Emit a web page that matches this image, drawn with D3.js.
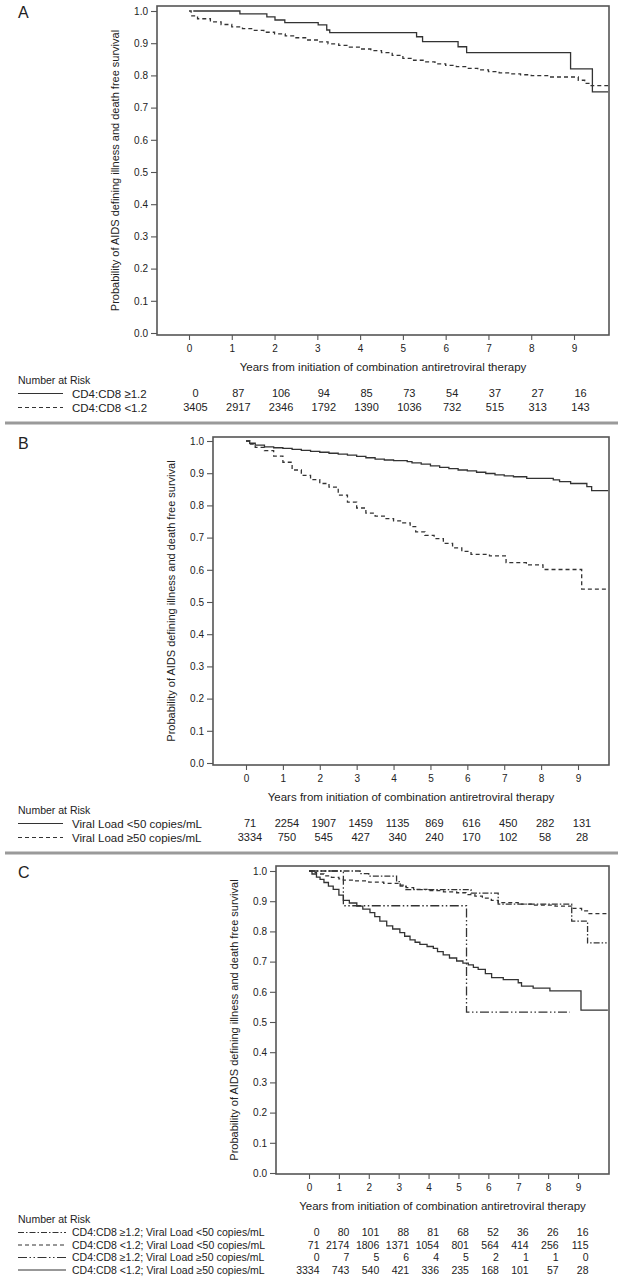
<!DOCTYPE html>
<meta charset="utf-8">
<style>
body { margin: 0; background: #fff; }
svg { display: block; font-family: "Liberation Sans", Arial, sans-serif; }
.frame { fill: none; stroke: #555; stroke-width: 1.6; }
.curve { fill: none; stroke: #333; stroke-width: 1.3; }
.axis text { font-family: "Liberation Sans", Arial, sans-serif; font-size: 10px; fill: #222; }
.axis line { stroke: #555; stroke-width: 1.1; }
.sep { stroke: #9a9a9a; stroke-width: 3; }
text { fill: #222; }
</style>
<svg width="626" height="1279"></svg>
<script src="https://d3js.org/d3.v7.min.js"></script>
<script>
// tick values
var years = [0, 1, 2, 3, 4, 5, 6, 7, 8, 9];
var probTicks = [0, 0.1, 0.2, 0.3, 0.4, 0.5, 0.6, 0.7, 0.8, 0.9, 1.0];

// ---- panel A : CD4:CD8 ratio ----
var kmA_high = [[0.1,1],[1.19,0.991],[1.82,0.982],[2.01,0.972],[2.24,0.964],[3.02,0.957],[3.22,0.941],[3.29,0.933],
  [5.32,0.92],[5.46,0.905],[6.29,0.889],[6.49,0.871],[8.92,0.82],[9.43,0.749],[9.8,0.749]];
var kmA_low = [[0,1],[0.05,0.985],[0.2,0.976],[0.5,0.966],[0.75,0.958],[1,0.951],[1.25,0.945],[1.5,0.94],[1.75,0.934],
  [2,0.929],[2.25,0.923],[2.5,0.917],[2.75,0.91],[3,0.904],[3.25,0.898],[3.5,0.893],[3.75,0.888],[4,0.882],[4.25,0.877],
  [4.5,0.871],[4.75,0.862],[5,0.853],[5.25,0.847],[5.5,0.842],[5.75,0.836],[6,0.831],[6.25,0.827],[6.5,0.822],[6.75,0.817],
  [7,0.812],[7.25,0.808],[7.5,0.805],[7.75,0.802],[8,0.799],[8.43,0.795],[9.1,0.785],[9.25,0.775],[9.4,0.768],[9.8,0.768]];
var riskA_high = [0, 87, 106, 94, 85, 73, 54, 37, 27, 16];
var riskA_low = [3405, 2917, 2346, 1792, 1390, 1036, 732, 515, 313, 143];

// ---- panel B : viral load ----
var kmB_low = [[0,1],[0.1,0.993],[0.25,0.987],[0.5,0.982],[0.75,0.979],[1,0.977],[1.25,0.974],[1.5,0.971],[1.75,0.968],
  [2,0.965],[2.25,0.962],[2.5,0.959],[2.75,0.956],[3,0.952],[3.25,0.948],[3.5,0.944],[3.75,0.941],[4,0.939],[4.37,0.936],
  [4.5,0.932],[4.75,0.928],[5,0.923],[5.25,0.918],[5.5,0.914],[5.75,0.91],[6,0.907],[6.25,0.903],[6.5,0.899],[6.75,0.895],
  [7,0.892],[7.25,0.889],[7.61,0.884],[8.33,0.879],[8.5,0.874],[8.8,0.868],[9.24,0.858],[9.37,0.846],[9.82,0.846]];
var kmB_high = [[0,1],[0.1,0.99],[0.25,0.98],[0.5,0.97],[0.75,0.953],[1,0.934],[1.25,0.91],[1.5,0.893],[1.75,0.88],
  [2,0.868],[2.25,0.857],[2.5,0.832],[2.75,0.81],[3,0.792],[3.25,0.776],[3.5,0.767],[3.75,0.759],[4,0.752],[4.25,0.746],
  [4.45,0.734],[4.6,0.718],[4.85,0.707],[5.1,0.697],[5.35,0.682],[5.6,0.668],[5.85,0.657],[6.1,0.648],[6.6,0.643],
  [7.05,0.622],[7.6,0.615],[8.05,0.601],[9.1,0.54],[9.82,0.54]];
var riskB_low = [71, 2254, 1907, 1459, 1135, 869, 616, 450, 282, 131];
var riskB_high = [3334, 750, 545, 427, 340, 240, 170, 102, 58, 28];

// ---- panel C : combined ----
var kmC_highLow = [[0,1],[1.71,0.991],[2,0.983],[2.93,0.965],[3.05,0.95],[3.24,0.938],[5.42,0.927],[6.33,0.89],
  [8.79,0.834],[9.32,0.762],[9.96,0.762]];
var kmC_lowLow = [[0,1],[0.1,0.995],[0.25,0.99],[0.5,0.984],[0.75,0.979],[1,0.974],[1.15,0.97],[1.5,0.967],[2,0.963],
  [2.5,0.959],[3,0.953],[3.25,0.945],[3.5,0.939],[4,0.935],[4.5,0.931],[4.94,0.928],[5.25,0.922],[5.55,0.917],[5.8,0.91],
  [6.1,0.903],[6.33,0.895],[7,0.89],[7.5,0.887],[8.23,0.884],[8.79,0.876],[9.12,0.868],[9.34,0.859],[9.96,0.859]];
var kmC_highHigh = [[0,1],[1.15,0.885],[5.27,0.533],[8.73,0.533]];
var kmC_lowHigh = [[0,1],[0.1,0.99],[0.25,0.98],[0.37,0.972],[0.5,0.962],[0.65,0.95],[0.81,0.939],[1,0.92],[1.15,0.903],
  [1.35,0.894],[1.6,0.884],[1.8,0.874],[2.04,0.862],[2.2,0.849],[2.37,0.834],[2.6,0.818],[2.8,0.808],[3.04,0.796],
  [3.2,0.784],[3.38,0.772],[3.55,0.764],[3.71,0.757],[3.95,0.75],[4.16,0.744],[4.3,0.733],[4.49,0.722],[4.7,0.712],
  [4.94,0.702],[5.15,0.695],[5.33,0.689],[5.5,0.681],[5.66,0.674],[5.9,0.66],[6.11,0.647],[6.5,0.64],[7,0.63],
  [7.11,0.619],[7.5,0.612],[8.06,0.603],[9.1,0.539],[10,0.539]];
var riskC_highLow = [0, 80, 101, 88, 81, 68, 52, 36, 26, 16];
var riskC_lowLow = [71, 2174, 1806, 1371, 1054, 801, 564, 414, 256, 115];
var riskC_highHigh = [0, 7, 5, 6, 4, 5, 2, 1, 1, 0];
var riskC_lowHigh = [3334, 743, 540, 421, 336, 235, 168, 101, 57, 28];

var DASH = "4,3", DASHDOT = "6,2,1.5,2", DASHDOTDOT = "9,2.5,1.5,2.5,1.5,2.5";

var svg = d3.select("svg");

var panels = [
  { letter: "A", box: [157, 6, 609, 335], xRange: [189, 574], yRange: [333, 11],
    rowGap: 14, labelFont: 11.5, numFont: 11, numShift: 6.5, numAnchor: "middle", lineEnd: 63, labelX: 72,
    series: [
      { label: "CD4:CD8 \u22651.2", km: kmA_high, risk: riskA_high, dash: null },
      { label: "CD4:CD8 <1.2", km: kmA_low, risk: riskA_low, dash: DASH } ] },
  { letter: "B", box: [213, 437, 609, 765], xRange: [246, 578], yRange: [763, 441],
    rowGap: 14, labelFont: 11.5, numFont: 11, numShift: 4, numAnchor: "middle", lineEnd: 63, labelX: 72,
    series: [
      { label: "Viral Load <50 copies/mL", km: kmB_low, risk: riskB_low, dash: null },
      { label: "Viral Load \u226550 copies/mL", km: kmB_high, risk: riskB_high, dash: DASH } ] },
  { letter: "C", box: [276, 866, 609, 1174], xRange: [309, 578], yRange: [1173, 871],
    rowGap: 12.5, labelFont: 10.5, numFont: 10.5, numShift: 10.5, numAnchor: "end", lineEnd: 66, labelX: 72,
    series: [
      { label: "CD4:CD8 \u22651.2; Viral Load <50 copies/mL", km: kmC_highLow, risk: riskC_highLow, dash: DASHDOT },
      { label: "CD4:CD8 <1.2; Viral Load <50 copies/mL", km: kmC_lowLow, risk: riskC_lowLow, dash: DASH },
      { label: "CD4:CD8 \u22651.2; Viral Load \u226550 copies/mL", km: kmC_highHigh, risk: riskC_highHigh, dash: DASHDOTDOT },
      { label: "CD4:CD8 <1.2; Viral Load \u226550 copies/mL", km: kmC_lowHigh, risk: riskC_lowHigh, dash: null } ] }
];

panels.forEach(drawPanel);

// grey separators between panels
svg.selectAll("line.sep").data([423, 853]).enter().append("line")
    .attr("class", "sep")
    .attr("x1", 5).attr("x2", 618)
    .attr("y1", d => d).attr("y2", d => d);

function drawPanel(p) {
  var g = svg.append("g");
  var x0 = p.box[0], y0 = p.box[1], x1 = p.box[2], y1 = p.box[3];
  var x = d3.scaleLinear().domain([0, 9]).range(p.xRange);
  var y = d3.scaleLinear().domain([0, 1]).range(p.yRange);

  // axes (frame is drawn separately)
  g.append("g").attr("class", "axis")
      .attr("transform", "translate(" + x0 + ",0)")
      .call(d3.axisLeft(y).tickValues(probTicks).tickFormat(d3.format(".1f"))
        .tickSize(6).tickPadding(3).tickSizeOuter(0))
      .call(a => a.select(".domain").remove());
  g.append("g").attr("class", "axis")
      .attr("transform", "translate(0," + y1 + ")")
      .call(d3.axisBottom(x).tickValues(years).tickFormat(d3.format("d"))
        .tickSize(5).tickPadding(5).tickSizeOuter(0))
      .call(a => a.select(".domain").remove());

  // curves
  var line = d3.line()
      .x(d => x(d[0]))
      .y(d => y(d[1]))
      .curve(d3.curveStepAfter);
  g.selectAll("path.curve").data(p.series).enter().append("path")
      .attr("class", "curve")
      .attr("d", d => line(d.km))
      .attr("stroke-dasharray", d => d.dash);

  g.append("rect").attr("class", "frame")
      .attr("x", x0).attr("y", y0)
      .attr("width", x1 - x0).attr("height", y1 - y0);

  // titles
  g.append("text")
      .attr("transform", "translate(" + (x0 - 38) + "," + ((y0 + y1) / 2) + ") rotate(-90)")
      .attr("text-anchor", "middle")
      .style("font-size", "11px")
      .text("Probability of AIDS defining illness and death free survival");
  g.append("text")
      .attr("x", (x0 + x1) / 2).attr("y", y1 + 32)
      .attr("dy", "0.35em")
      .attr("text-anchor", "middle")
      .style("font-size", "11.5px")
      .text("Years from initiation of combination antiretroviral therapy");
  g.append("text")
      .attr("x", 18).attr("y", y0 + 12)
      .style("font-size", "16px")
      .text(p.letter);

  // number at risk table
  g.append("text")
      .attr("x", 18).attr("y", y1 + 45).attr("dy", "0.35em")
      .style("font-size", "10.5px")
      .text("Number at Risk");
  p.series.forEach(function(s, i) {
    var ry = y1 + 58.5 + i * p.rowGap;
    g.append("line")
        .attr("x1", 18).attr("x2", p.lineEnd)
        .attr("y1", ry).attr("y2", ry)
        .attr("stroke", "#333").attr("stroke-width", 1.1)
        .attr("stroke-dasharray", s.dash);
    g.append("text")
        .attr("x", p.labelX).attr("y", ry).attr("dy", "0.35em")
        .style("font-size", p.labelFont + "px")
        .text(s.label);
    g.selectAll(null).data(s.risk).enter().append("text")
        .attr("x", (d, j) => x(years[j]) + p.numShift)
        .attr("y", ry).attr("dy", "0.35em")
        .attr("text-anchor", p.numAnchor)
        .style("font-size", p.numFont + "px")
        .text(d => d);
  });
}
</script>
